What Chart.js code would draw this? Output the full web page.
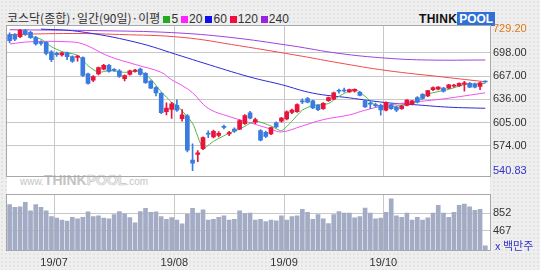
<!DOCTYPE html>
<html>
<head>
<meta charset="utf-8">
<script src="https://cdn.jsdelivr.net/npm/chart.js@4.4.1/dist/chart.umd.min.js"></script>
<style>
  body { margin: 0; width: 540px; height: 270px; position: relative; overflow: hidden;
         background-color: #efefef; font-family: "Noto Sans CJK KR", sans-serif;
         background-image: radial-gradient(#e2e2e2 0.7px, transparent 0.8px); background-size: 4px 4px; }
  #frame { position: absolute; left: 7px; top: 26px; width: 483px; height: 225px; background: #fff; }
  #title { position: absolute; left: 7px; top: 11px; font-size: 12px; line-height: 14px; color: #333; white-space: nowrap; }
  #title .sq { display: inline-block; width: 7px; height: 7px; margin: 0 1px 0 3px; }
  #title .n { font-family: "Liberation Sans", sans-serif; font-size: 12px; }
  #logo { position: absolute; left: 419px; top: 13px; height: 12px; font: bold 12px "Liberation Sans", sans-serif;
          line-height: 12px; white-space: nowrap; }
  #logo .think { color: #111; letter-spacing: 0.3px; }
  #logo .pool { background: #2f6fd8; color: #fff; padding: 0 2px; }
  #mark { position: absolute; left: 20px; top: 171px; color: #c4c4c4; white-space: nowrap; font-family: "Liberation Sans", sans-serif; }
  #mark .s { font-size: 10px; }
  #mark .b { font-weight: bold; font-size: 14px; }
  #mark .p { font-weight: bold; font-size: 14px; color: #efefef; -webkit-text-stroke: 0.6px #c4c4c4; }
  #unit { position: absolute; left: 495px; top: 237px; font-size: 11px; color: #3333cc; white-space: nowrap; }
  canvas { position: absolute; left: 0; }
  #price { top: 0; }
  #vol { top: 185px; }
</style>
</head>
<body>
<div id="frame"></div>
<div id="title">코스닥(종합)·일간(90일)·이평<span class="sq" style="background:#22aa22"></span><span class="n">5</span><span class="sq" style="background:#ff22ff"></span><span class="n">20</span><span class="sq" style="background:#1010ee"></span><span class="n">60</span><span class="sq" style="background:#f01040"></span><span class="n">120</span><span class="sq" style="background:#9922dd"></span><span class="n">240</span></div>
<div id="logo"><span class="think">THINK</span><span class="pool">POOL</span></div>
<div id="mark"><span class="s">www.</span><span class="b">THINK</span><span class="p">POOL</span><span class="s">.com</span></div>
<canvas id="price" width="540" height="186"></canvas>
<canvas id="vol" width="540" height="85"></canvas>
<div id="unit">x 백만주</div>
<script>
// trading days (2019)
const dates = [
  '06/18','06/19','06/20','06/21','06/24','06/25','06/26','06/27','06/28',
  '07/01','07/02','07/03','07/04','07/05','07/08','07/09','07/10','07/11','07/12','07/15','07/16','07/17',
  '07/18','07/19','07/22','07/23','07/24','07/25','07/26','07/29','07/30','07/31',
  '08/01','08/02','08/05','08/06','08/07','08/08','08/09','08/12','08/13','08/14','08/16','08/19','08/20',
  '08/21','08/22','08/23','08/26','08/27','08/28','08/29','08/30',
  '09/02','09/03','09/04','09/05','09/06','09/09','09/10','09/11','09/16','09/17','09/18','09/19','09/20',
  '09/23','09/24','09/25','09/26','09/27','09/30',
  '10/01','10/02','10/04','10/07','10/08','10/10','10/11','10/14','10/15','10/16','10/17','10/18','10/21',
  '10/22','10/23','10/24','10/25','10/28','10/29','10/30'
];

const open = [722.3,722.0,719.4,727.5,725.2,718.1,711.5,711.8,699.2,697.1,695.0,697.9,692.9,691.6,691.6,669.8,661.4,669.8,676.1,681.1,
  675.5,674.0,663.5,669.0,673.6,676.1,670.6,660.1,651.7,643.8,619.4,622.5,627.8,610.2,614.0,555.1,562.7,570.3,590.5,585.8,
  587.9,600.0,590.0,596.3,596.3,603.4,618.1,605.5,594.2,592.0,590.0,604.7,606.8,609.7,618.6,619.4,634.0,637.0,634.0,627.8,
  623.6,634.0,636.2,647.5,648.0,645.9,646.7,645.4,634.1,630.3,629.0,628.0,621.5,628.6,625.7,623.6,627.8,629.5,638.3,642.5,
  640.4,648.8,649.6,650.9,650.9,653.6,653.8,656.0,657.2,656.4,653.0,659.5];
const high = [724.5,723.5,729.0,729.2,726.5,720.0,714.0,713.0,701.0,699.0,698.5,699.0,694.0,694.5,692.5,671.0,667.5,679.0,682.5,682.5,
  677.0,675.5,668.5,675.0,676.0,677.5,671.5,661.0,653.0,645.0,631.2,632.0,635.4,622.3,615.5,576.6,567.7,586.0,594.0,595.0,
  593.0,601.5,593.4,598.0,608.5,615.5,620.0,611.0,595.5,593.5,599.0,606.0,612.0,620.5,623.0,630.0,636.5,638.5,635.0,629.0,
  631.5,639.0,645.5,649.5,651.0,649.5,650.0,646.5,635.0,633.3,631.0,629.5,632.5,630.0,627.0,628.0,635.5,634.5,639.5,643.5,
  648.0,652.5,653.0,652.0,656.0,656.0,658.0,660.0,658.5,657.5,658.8,660.5];
const low = [711.5,714.0,718.0,721.0,717.0,708.0,708.0,695.0,686.0,693.0,693.5,688.7,685.0,686.6,666.0,656.0,659.5,668.5,675.0,672.0,
  673.0,665.0,660.6,668.0,672.0,668.0,657.0,650.0,640.4,617.0,615.2,610.5,620.0,606.8,566.0,540.83,553.0,569.0,585.0,584.5,
  585.8,596.5,587.5,592.0,595.5,602.5,610.0,603.4,580.5,585.0,589.0,598.0,605.5,608.5,617.0,618.5,630.0,631.0,623.5,621.0,
  622.5,633.0,635.5,644.0,645.5,645.0,645.5,640.5,625.0,623.6,625.5,615.0,620.5,622.5,619.4,622.5,627.0,628.5,631.0,636.0,
  639.5,647.5,648.5,645.5,650.0,652.0,653.0,646.7,651.5,651.0,648.8,658.5];
const close = [713.9,716.0,727.8,722.3,718.1,709.7,710.5,697.1,688.7,695.4,697.9,692.9,686.6,693.7,667.7,657.2,666.4,678.2,681.1,673.2,
  674.5,666.4,667.7,674.0,674.4,669.0,658.0,650.9,644.6,618.1,624.4,630.0,621.5,615.2,568.2,551.0,564.8,585.0,589.5,593.4,
  590.8,598.5,591.6,593.4,607.6,614.4,611.0,608.9,581.6,586.6,598.4,599.2,611.0,619.4,621.5,629.0,632.5,632.0,624.4,622.3,
  630.7,638.3,644.6,646.7,647.0,648.8,649.2,641.2,625.7,629.5,627.5,622.0,632.0,623.6,621.5,627.0,634.9,633.8,632.0,637.0,
  647.5,651.7,652.2,646.7,655.1,654.2,657.2,658.0,652.2,652.2,658.0,659.0];
// volume, million shares
const volume = [1036,975,987,1085,901,1036,975,901,779,743,700,681,761,730,761,877,779,791,743,730,
  822,883,834,755,645,883,956,871,877,779,718,755,700,620,828,956,852,920,700,718,
  761,791,700,718,901,840,852,700,718,669,700,688,791,700,779,791,932,871,718,822,
  730,626,822,883,852,852,749,779,962,852,730,743,871,1158,791,761,852,700,761,700,
  748,852,1017,852,761,871,1017,1048,987,913,932,150];

// moving averages: [day index, value]
const ma5 = [[4,720],[6,716],[8,706],[10,699.6],[13,694.6],[15,680.7],[17,671.9],[19,674.4],[22,671.9],[25,673.2],[27,663],
  [29,646],[31,632],[32,627.8],[35,604],[37,571],[39,580],[42,591],[44,596.3],[47,606.8],[50,600.5],[52,594.2],[54,606.8],
  [56,621.5],[58,627.8],[61,630.3],[63,640],[66,649.2],[68,640],[70,628],[72,625.7],[76,629.1],[79,636.6],[80,642.9],
  [84,649.2],[87,655.5],[90,656.8],[91,657]];
const ma20 = [[0,709.7],[4,712.6],[11,712.6],[14,709.7],[19,693.3],[24,682.4],[29,671.9],[31,662],[33,654.3],[35,644.6],
  [38,624],[42,613.1],[47,602.6],[50,596.3],[52,592.5],[56,600.5],[60,608.9],[65,615.2],[68,621.5],[72,627.8],[77,632],
  [83,636.6],[91,644.6]];
const ma60 = [[6,729.5],[13,726.5],[24,712.2],[33,693.3],[37,684.5],[46,665.6],[52,655.5],[58,644.2],[65,637.9],[72,631.6],
  [78,628.5],[84,625.5],[91,624]];
const ma120 = [[0,722.3],[12,723.6],[21,722.3],[33,718.5],[44,707.2],[56,693.3],[63,684.5],[72,674.4],[83,665.6],[91,659.3]];
const ma240 = [[0,728.6],[17,727.4],[31,724.8],[42,718.6],[54,707.2],[63,697.1],[72,690.8],[80,688.3],[91,688.3]];

const priceTicks = [540.83, 574, 605, 636, 667, 698, 729.2];
const volTicks = [467, 852];

const UP = '#e8143c', DOWN = '#3a7be0', GRID = '#c8c8c8';
const tickFont = { family: 'Liberation Sans', size: 11 };

const monthLines = [];
dates.forEach((d, i) => { if (i > 0 && d.slice(0, 2) !== dates[i - 1].slice(0, 2)) monthLines.push(i - 0.5); });

const candleColor = ctx => close[ctx.dataIndex] >= open[ctx.dataIndex] ? UP : DOWN;

const framePlugin = {
  id: 'frame',
  afterDraw(chart) {
    const a = chart.chartArea, c = chart.ctx;
    c.save();
    c.strokeStyle = '#a8a8a8';
    c.lineWidth = 1;
    c.strokeRect(Math.round(a.left) - 0.5, Math.round(a.top) - 0.5, Math.round(a.right - a.left) + 1, Math.round(a.bottom - a.top) + 1);
    c.restore();
  }
};

function xAxis(showLabels) {
  return {
    type: 'linear', min: -0.5, max: 91.9, offset: false,
    afterBuildTicks: s => { s.ticks = monthLines.map(v => ({ value: v })); },
    afterFit: s => { s.height = showLabels ? 20 : 0; },
    grid: { color: GRID, drawTicks: false, offset: false },
    border: { display: false },
    ticks: {
      display: showLabels, autoSkip: false, maxRotation: 0, padding: 6, color: '#333', font: tickFont,
      callback: v => '19/' + dates[Math.round(v + 0.5)].slice(0, 2)
    }
  };
}

const line = (data, color, order, tension) => ({
  type: 'line', data: data.map(([x, y]) => ({ x, y })), borderColor: color, borderWidth: 1,
  pointRadius: 0, tension: tension, order: order
});

new Chart(document.getElementById('price'), {
  data: {
    datasets: [
      { type: 'bar', data: dates.map((d, i) => ({ x: i, y: [open[i], close[i]] })), backgroundColor: candleColor,
        barThickness: 4, minBarLength: 1, grouped: false, order: 0 },
      { type: 'bar', data: dates.map((d, i) => ({ x: i, y: [low[i], high[i]] })), backgroundColor: candleColor,
        barThickness: 1, grouped: false, order: 1 },
      line(ma5, '#4cb84c', 2, 0.2),
      line(ma20, '#f050f0', 3, 0.4),
      line(ma60, '#2a2ad8', 4, 0.4),
      line(ma120, '#f04a50', 5, 0.4),
      line(ma240, '#a040e0', 6, 0.4)
    ]
  },
  options: {
    responsive: false, animation: false,
    layout: { padding: { left: 7, top: 26, right: 0, bottom: 1 } },
    plugins: { legend: { display: false }, tooltip: { enabled: false } },
    scales: {
      x: xAxis(false),
      y: {
        position: 'right', min: 533.3, max: 733.6,
        afterBuildTicks: s => { s.ticks = priceTicks.map(v => ({ value: v })); },
        afterFit: s => { s.width = 50; },
        grid: { drawTicks: false, color: c => (c.tick && (c.tick.value === priceTicks[0] || c.tick.value === priceTicks[priceTicks.length - 1])) ? 'rgba(0,0,0,0)' : GRID },
        border: { display: false },
        ticks: {
          padding: 3, font: tickFont,
          color: c => c.tick.value === priceTicks[priceTicks.length - 1] ? '#e07818' : (c.tick.value === priceTicks[0] ? '#3333cc' : '#333'),
          callback: v => v.toFixed(2)
        }
      }
    }
  },
  plugins: [framePlugin]
});

new Chart(document.getElementById('vol'), {
  data: {
    datasets: [
      { type: 'bar', data: dates.map((d, i) => ({ x: i, y: volume[i] })), backgroundColor: '#a3acc4', barThickness: 4 }
    ]
  },
  options: {
    responsive: false, animation: false,
    layout: { padding: { left: 7, top: 0, right: 0, bottom: 0 } },
    plugins: { legend: { display: false }, tooltip: { enabled: false } },
    scales: {
      x: xAxis(true),
      y: {
        position: 'right', min: 58, max: 1250,
        afterBuildTicks: s => { s.ticks = volTicks.map(v => ({ value: v })); },
        afterFit: s => { s.width = 50; },
        grid: { drawTicks: false, color: GRID },
        border: { display: false },
        ticks: { padding: 3, font: tickFont, color: '#333', callback: v => String(v) }
      }
    }
  },
  plugins: [framePlugin]
});
</script>
</body>
</html>
